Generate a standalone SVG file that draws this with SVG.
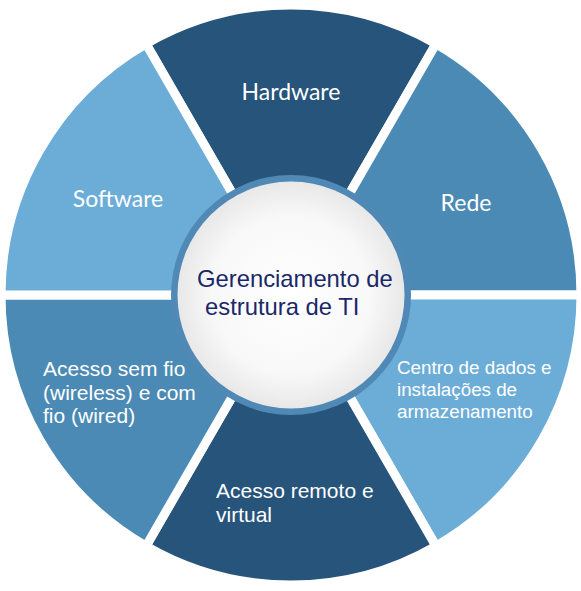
<svg xmlns="http://www.w3.org/2000/svg" width="581" height="591" viewBox="0 0 581 591">
  <defs>
    <radialGradient id="hubFill" cx="0.5" cy="0.5" r="0.5">
      <stop offset="0" stop-color="#ffffff"/>
      <stop offset="0.7" stop-color="#f8f8f8"/>
      <stop offset="1" stop-color="#e8e8e8"/>
    </radialGradient>
  </defs>
  <style>
    .seg { stroke: #ffffff; stroke-width: 9; stroke-linejoin: miter; }
    .dark { fill: #27547b; }
    .mid { fill: #4b8ab4; }
    .light { fill: #6cadd8; }
    .lbl-a { font-family: "Lato", "Liberation Sans", sans-serif; font-size: 23px; fill: #ffffff; text-anchor: middle; }
    .lbl-b { font-family: "Liberation Sans", Arial, sans-serif; font-size: 21px; fill: #ffffff; }
    .lbl-c { font-family: "Liberation Sans", Arial, sans-serif; font-size: 18.8px; fill: #ffffff; }
    .hub-t { font-family: "Liberation Sans", Arial, sans-serif; font-size: 23.8px; fill: #1a2868; }
  </style>
  <rect width="581" height="591" fill="#ffffff"/>
  <g id="connectors"></g>
  <g id="node-hardware">
    <path class="seg dark" d="M291,295 L146,43.85 A290,290 0 0 1 436,43.85 Z"/>
    <text class="lbl-a" x="291" y="100">Hardware</text>
  </g>
  <g id="node-rede">
    <path class="seg mid" d="M291,295 L436,43.85 A290,290 0 0 1 581,295 Z"/>
    <text class="lbl-a" x="466" y="211">Rede</text>
  </g>
  <g id="node-centro">
    <path class="seg light" d="M291,295 L581,295 A290,290 0 0 1 436,546.15 Z"/>
    <text class="lbl-c" x="397" y="374">Centro de dados e</text>
    <text class="lbl-c" x="397" y="396">instalações de</text>
    <text class="lbl-c" x="397" y="418">armazenamento</text>
  </g>
  <g id="node-remoto">
    <path class="seg dark" d="M291,295 L436,546.15 A290,290 0 0 1 146,546.15 Z"/>
    <text class="lbl-b" x="216" y="498">Acesso remoto e</text>
    <text class="lbl-b" x="216" y="522">virtual</text>
  </g>
  <g id="node-semfio">
    <path class="seg mid" d="M291,295 L146,546.15 A290,290 0 0 1 1,295 Z"/>
    <text class="lbl-b" x="43" y="376">Acesso sem fio</text>
    <text class="lbl-b" x="43" y="399.5">(wireless) e com</text>
    <text class="lbl-b" x="43" y="423">fio (wired)</text>
  </g>
  <g id="node-software">
    <path class="seg light" d="M291,295 L1,295 A290,290 0 0 1 146,43.85 Z"/>
    <text class="lbl-a" x="118" y="207">Software</text>
  </g>
  <g id="node-hub">
    <circle cx="291" cy="295" r="120" fill="#5089b5"/>
    <circle cx="291" cy="295" r="113.5" fill="url(#hubFill)"/>
    <text class="hub-t" x="197" y="287">Gerenciamento de</text>
    <text class="hub-t" x="205" y="315">estrutura de TI</text>
  </g>
</svg>
